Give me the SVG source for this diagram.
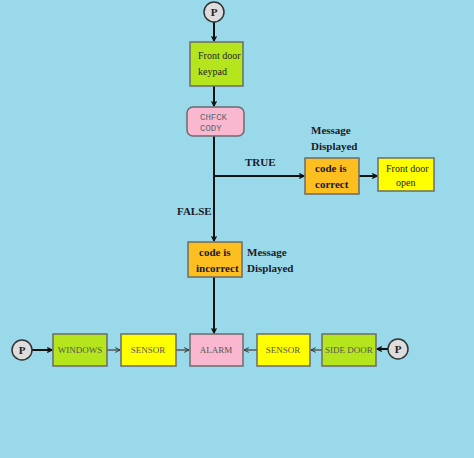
<svg xmlns="http://www.w3.org/2000/svg" width="474" height="458" viewBox="0 0 474 458">
<defs>
<marker id="ah" viewBox="0 0 10 10" refX="9" refY="5" markerWidth="6" markerHeight="6" orient="auto" markerUnits="userSpaceOnUse">
<path d="M1,1 L9,5 L1,9" fill="none" stroke="#111" stroke-width="2"/>
</marker>
<marker id="ahg" viewBox="0 0 10 10" refX="9" refY="5" markerWidth="6" markerHeight="6" orient="auto" markerUnits="userSpaceOnUse">
<path d="M1,1 L9,5 L1,9" fill="none" stroke="#333" stroke-width="1.6"/>
</marker>
</defs>
<style>
.bx{stroke:#6b6b6b;stroke-width:1.5}
.g{fill:#b5e61d}.y{fill:#ffff00}.o{fill:#fdbf1f}.p{fill:#f9b8d0}
.t{font-family:"Liberation Serif",serif;font-size:10px;fill:#222}
.b{font-family:"Liberation Serif",serif;font-size:11px;font-weight:bold;fill:#1a1a2a}
.m{font-family:"Liberation Mono",monospace;font-size:9px;fill:#666}
.s{font-family:"Liberation Serif",serif;font-size:9px;fill:#555}
.pc{fill:#ddd;stroke:#333;stroke-width:1.5}
.pt{font-family:"Liberation Serif",serif;font-size:11px;font-weight:bold;fill:#222;text-anchor:middle}
.c{fill:none;stroke:#111;stroke-width:2}
.cg{fill:none;stroke:#444;stroke-width:1.3}
</style>
<rect x="0" y="0" width="474" height="458" fill="#9ad9e9"/>
<g id="connectors">
<line class="c" x1="214" y1="22" x2="214" y2="41" marker-end="url(#ah)"/>
<line class="c" x1="214" y1="86" x2="214" y2="106" marker-end="url(#ah)"/>
<line class="c" x1="214" y1="136" x2="214" y2="241" marker-end="url(#ah)"/>
<line class="c" x1="214" y1="176" x2="304" y2="176" marker-end="url(#ah)"/>
<line class="c" x1="359" y1="176" x2="377" y2="176" stroke-width="3" marker-end="url(#ah)"/>
<line class="c" x1="214" y1="277" x2="214" y2="333" marker-end="url(#ah)"/>
<line class="c" x1="32" y1="350" x2="52" y2="350" marker-end="url(#ah)"/>
<line class="cg" x1="107" y1="350" x2="120" y2="350" marker-end="url(#ahg)"/>
<line class="cg" x1="176" y1="350" x2="189" y2="350" marker-end="url(#ahg)"/>
<line class="cg" x1="257" y1="350" x2="244" y2="350" marker-end="url(#ahg)"/>
<line class="cg" x1="322" y1="350" x2="311" y2="350" marker-end="url(#ahg)"/>
<line class="c" x1="388" y1="349" x2="377" y2="349" marker-end="url(#ah)"/>
</g>
<g id="p-top"><circle class="pc" cx="214" cy="12" r="10"/><text class="pt" x="214" y="16">P</text></g>
<g id="keypad"><rect class="bx g" x="190" y="42" width="53" height="44"/><text class="t" x="198" y="59">Front door</text><text class="t" x="198" y="75">keypad</text></g>
<g id="check"><rect class="bx p" x="187" y="107" width="57" height="29" rx="6"/><text class="m" x="200" y="120">CHFCK</text><text class="m" x="200" y="131">CODY</text></g>
<g id="label-true"><text class="b" x="245" y="166">TRUE</text></g>
<g id="label-false"><text class="b" x="177" y="215">FALSE</text></g>
<g id="correct"><rect class="bx o" x="305" y="158" width="54" height="36"/><text class="b" x="315" y="172">code is</text><text class="b" x="315" y="188">correct</text>
<text class="b" x="311" y="134">Message</text><text class="b" x="311" y="150">Displayed</text></g>
<g id="open"><rect class="bx y" x="378" y="158" width="56" height="33"/><text class="t" x="386" y="172">Front door</text><text class="t" x="396" y="186">open</text></g>
<g id="incorrect"><rect class="bx o" x="188" y="242" width="54" height="35"/><text class="b" x="199" y="256">code is</text><text class="b" x="196" y="272">incorrect</text>
<text class="b" x="247" y="256">Message</text><text class="b" x="247" y="272">Displayed</text></g>
<g id="p-left"><circle class="pc" cx="22" cy="350" r="10"/><text class="pt" x="22" y="354">P</text></g>
<g id="windows"><rect class="bx g" x="53" y="334" width="54" height="32"/><text class="s" x="80" y="353" text-anchor="middle">WINDOWS</text></g>
<g id="sensor-l"><rect class="bx y" x="121" y="334" width="55" height="32"/><text class="s" x="148" y="353" text-anchor="middle">SENSOR</text></g>
<g id="alarm"><rect class="bx p" x="190" y="334" width="53" height="32"/><text class="s" x="216" y="353" text-anchor="middle">ALARM</text></g>
<g id="sensor-r"><rect class="bx y" x="257" y="334" width="53" height="32"/><text class="s" x="283" y="353" text-anchor="middle">SENSOR</text></g>
<g id="side"><rect class="bx g" x="322" y="334" width="54" height="32"/><text class="s" x="349" y="353" text-anchor="middle">SIDE DOOR</text></g>
<g id="p-right"><circle class="pc" cx="398" cy="349" r="10"/><text class="pt" x="398" y="353">P</text></g>
</svg>
